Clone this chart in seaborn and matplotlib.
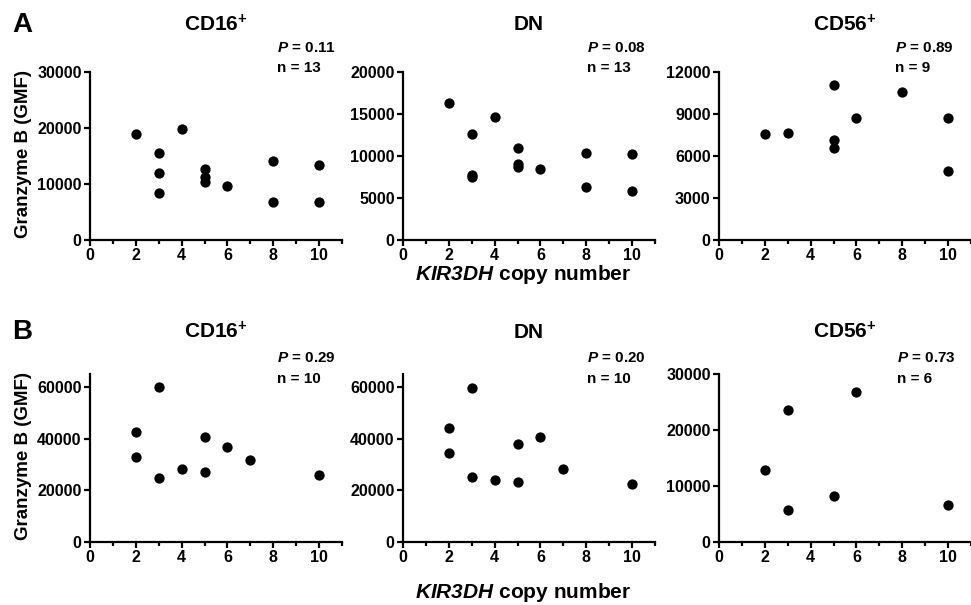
import matplotlib
matplotlib.use("Agg")
import matplotlib.pyplot as plt
import seaborn as sns
import pandas as pd
from matplotlib.ticker import MultipleLocator

# ---------------- data ----------------
a_cd16_x = [2, 3, 3, 3, 4, 5, 5, 5, 6, 8, 8, 10, 10]
a_cd16_y = [19000, 15600, 11900, 8400, 19850, 12600, 11200, 10400, 9700, 14100, 6800, 13400, 6800]

a_dn_x = [2, 3, 3, 3, 4, 5, 5, 5, 6, 8, 8, 10, 10]
a_dn_y = [16250, 12650, 7750, 7550, 14650, 11000, 9100, 8750, 8400, 10300, 6350, 10200, 5850]

a_cd56_x = [2, 3, 5, 5, 5, 6, 8, 10, 10]
a_cd56_y = [7550, 7650, 11050, 7150, 6550, 8700, 10550, 8750, 4900]

b_cd16_x = [2, 2, 3, 3, 4, 5, 5, 6, 7, 10]
b_cd16_y = [42600, 32800, 60000, 24900, 28100, 40600, 26900, 36600, 31700, 26000]

b_dn_x = [2, 2, 3, 3, 4, 5, 5, 6, 7, 10]
b_dn_y = [44300, 34500, 59400, 25100, 23800, 37900, 23300, 40600, 28300, 22400]

b_cd56_x = [2, 3, 3, 5, 6, 10]
b_cd56_y = [12800, 23500, 5800, 8200, 26800, 6600]

titles = ["CD16$^{\\mathbf{+}}$", "DN", "CD56$^{\\mathbf{+}}$"]
p_values = [["0.11", "0.08", "0.89"], ["0.29", "0.20", "0.73"]]
n_values = [[13, 13, 9], [10, 10, 6]]
y_tick_steps = [[10000, 5000, 3000], [20000, 20000, 10000]]
y_limits = [[30000, 20000, 12000], [65000, 65000, 30000]]
row_labels = ["A", "B"]
y_label = "Granzyme B (GMF)"
x_label = "$\\mathbfit{KIR3DH}$ copy number"

rows = [
    [(a_cd16_x, a_cd16_y), (a_dn_x, a_dn_y), (a_cd56_x, a_cd56_y)],
    [(b_cd16_x, b_cd16_y), (b_dn_x, b_dn_y), (b_cd56_x, b_cd56_y)],
]

# ---------------- style ----------------
sns.set_style("ticks")
plt.rcParams["font.family"] = ["Liberation Sans", "DejaVu Sans"]
plt.rcParams["font.weight"] = "bold"
plt.rcParams["text.color"] = "black"
plt.rcParams["axes.labelcolor"] = "black"
plt.rcParams["xtick.color"] = "black"
plt.rcParams["ytick.color"] = "black"
plt.rcParams["mathtext.fontset"] = "custom"
plt.rcParams["mathtext.rm"] = "Liberation Sans:bold"
plt.rcParams["mathtext.bf"] = "Liberation Sans:bold"
plt.rcParams["mathtext.it"] = "Liberation Sans:italic:bold"
plt.rcParams["mathtext.bfit"] = "Liberation Sans:italic:bold"

W, H = 971, 605
fig = plt.figure(figsize=(W / 100, H / 100), dpi=100)

lefts_px = [90, 403, 719]
width_px = 252
bottoms_px = [240, 542]
height_px = 168
title_y_px = [25, 332]
p_x_px = [[277, 587, 895], [277, 587, 897]]
p_y_px = [[48, 68], [358, 379]]
xlabel_y_px = [275, 593]

for r in range(2):
    for c in range(3):
        ax = fig.add_axes([lefts_px[c] / W, 1 - bottoms_px[r] / H,
                           width_px / W, height_px / H])
        xs, ys = rows[r][c]
        df = pd.DataFrame({"copy": xs, "gzmb": ys})
        sns.scatterplot(data=df, x="copy", y="gzmb", ax=ax, color="black",
                        s=55, edgecolor="black", linewidth=0, legend=False)
        ax.set_xlim(0, 11)
        ax.set_ylim(0, y_limits[r][c])
        ax.xaxis.set_major_locator(MultipleLocator(2))
        ax.xaxis.set_minor_locator(MultipleLocator(1))
        ax.yaxis.set_major_locator(MultipleLocator(y_tick_steps[r][c]))
        ax.set_xlabel("")
        ax.set_ylabel("")
        for s in ["top", "right"]:
            ax.spines[s].set_visible(False)
        for s in ["left", "bottom"]:
            ax.spines[s].set_linewidth(1.6)
            ax.spines[s].set_color("black")
        ax.tick_params(which="major", length=4.5, width=1.6, labelsize=11.5,
                       colors="black", pad=1.5)
        ax.tick_params(which="minor", axis="x", length=3, width=1.6)
        for lab in ax.get_xticklabels() + ax.get_yticklabels():
            lab.set_fontweight("bold")
        ax.patch.set_alpha(0)
        cx = (lefts_px[c] + width_px / 2) / W
        fig.text(cx, 1 - title_y_px[r] / H, titles[c],
                 ha="center", va="center", fontsize=15, fontweight="bold")
        fig.text(p_x_px[r][c] / W, 1 - p_y_px[r][0] / H,
                 "$\\mathbfit{P}$ = " + p_values[r][c],
                 ha="left", va="center", fontsize=11, fontweight="bold")
        fig.text(p_x_px[r][c] / W, 1 - p_y_px[r][1] / H,
                 f"n = {n_values[r][c]}",
                 ha="left", va="center", fontsize=11, fontweight="bold")

    fig.text(22 / W, 1 - title_y_px[r] / H, row_labels[r], ha="center",
             va="center", fontsize=20, fontweight="bold")
    fig.text(23 / W, 1 - (bottoms_px[r] - height_px / 2 - 2) / H,
             y_label, rotation=90, ha="center", va="center",
             fontsize=13.5, fontweight="bold")
    fig.text(523 / W, 1 - xlabel_y_px[r] / H, x_label,
             ha="center", va="center", fontsize=15, fontweight="bold")

fig.savefig("out.png", dpi=100)
